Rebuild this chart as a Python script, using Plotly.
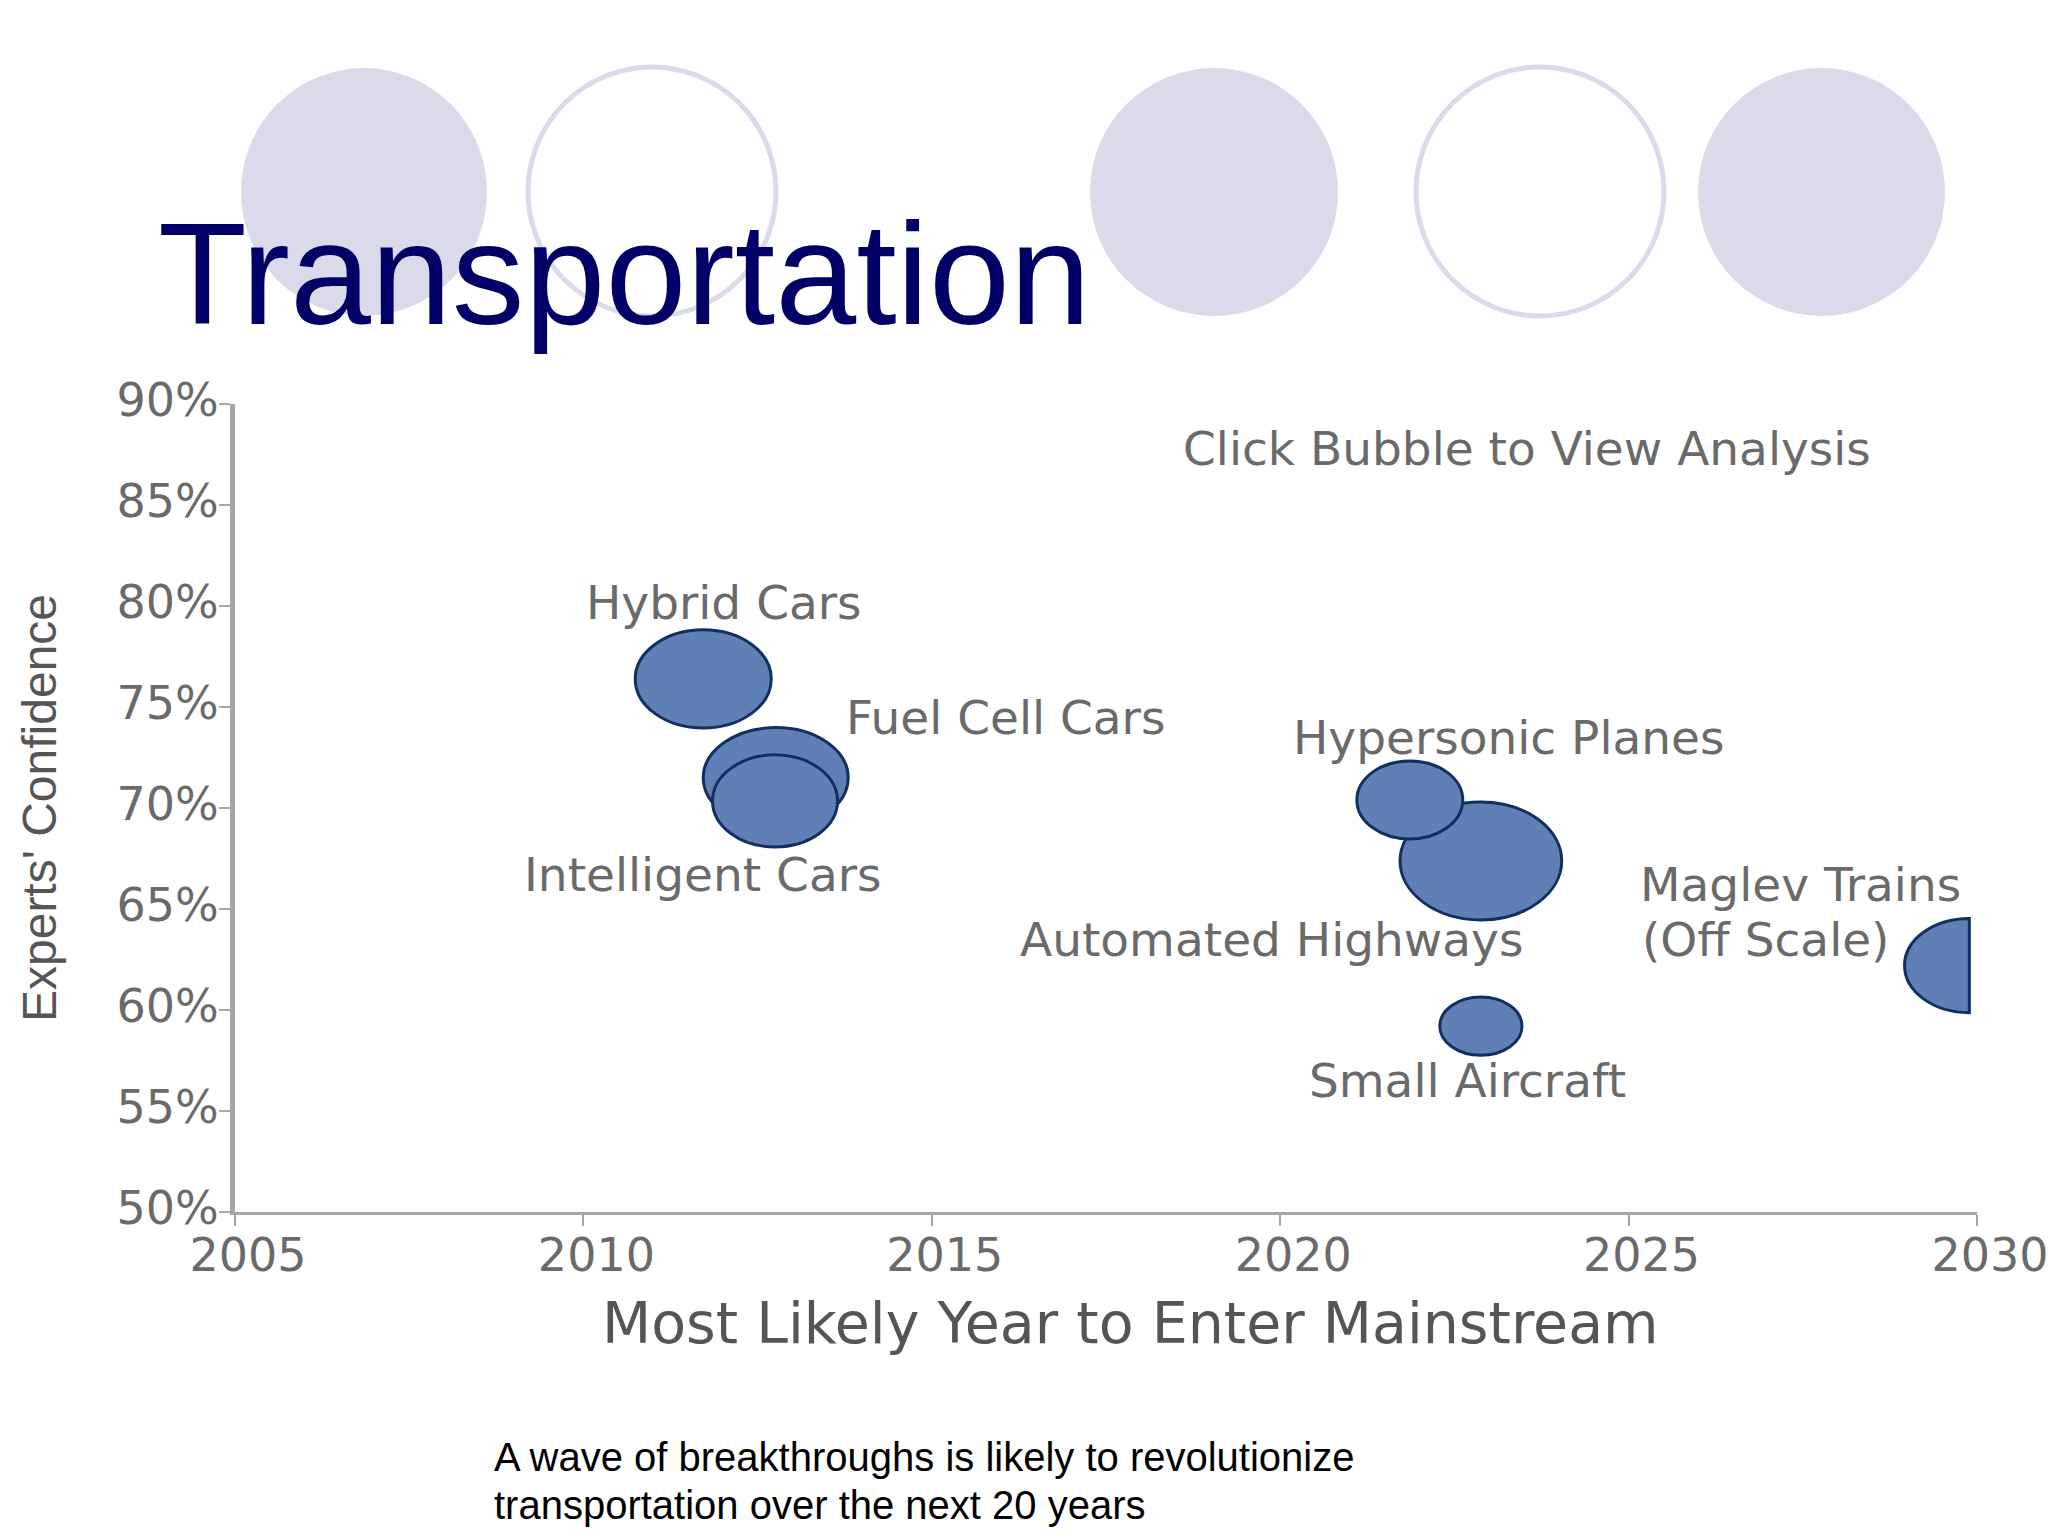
import plotly.graph_objects as go

# ---- data ----
names = ["Hybrid Cars", "Fuel Cell Cars", "Intelligent Cars", "Automated Highways",
         "Hypersonic Planes", "Small Aircraft"]
years = [2011.72, 2012.76, 2012.75, 2022.88, 2021.86, 2022.88]
confidence = [76.39, 71.5, 70.35, 67.38, 70.4, 59.2]
half_years = [0.976, 1.04, 0.897, 1.16, 0.76, 0.59]
half_conf = [2.43, 2.48, 2.28, 2.92, 1.93, 1.44]

maglev_year = 2029.89
maglev_conf = 62.2
maglev_half_year = 0.93
maglev_half_conf = 2.33

label_texts = ["Click Bubble to View Analysis", "Hybrid Cars", "Fuel Cell Cars", "Intelligent Cars",
               "Hypersonic Planes", "Automated Highways", "Maglev Trains", "(Off Scale)", "Small Aircraft"]
label_years = [2023.54, 2012.02, 2016.06, 2011.72, 2023.28, 2019.88, 2027.47, 2026.97, 2022.69]
label_conf = [87.8, 80.15, 74.5, 66.73, 73.47, 63.47, 66.2, 63.5, 56.49]

x_ticks = [2005, 2010, 2015, 2020, 2025, 2030]
y_ticks = [50, 55, 60, 65, 70, 75, 80, 85, 90]
y_tick_labels = ["50%", "55%", "60%", "65%", "70%", "75%", "80%", "85%", "90%"]

title_text = "Transportation"
x_title = "Most Likely Year to Enter Mainstream"
y_title = "Experts' Confidence"
caption_lines = ["A wave of breakthroughs is likely to revolutionize",
                 "transportation over the next 20 years"]

# ---- styles / layout ----
W, H = 2048, 1536
L, R, T, B = 235, 1977, 404, 1212
FILL, EDGE = "#5F7FB5", "#12305F"
AXIS, TEXT = "#A6A6A6", "#6A6A6A"
DECOR = "#DADAEB"
decor_filled = [(241, 487, 68, 316), (1090, 1338, 68, 316), (1698, 1945, 68, 316)]
decor_rings = [(528, 776, 67, 316), (1416, 1664, 67, 316)]


def px(x):
    return (x - L) / (R - L)


def py(y):
    return (B - y) / (B - T)


shapes = []
for x0, x1, y0, y1 in decor_filled:
    shapes.append(dict(type="circle", xref="paper", yref="paper", x0=px(x0), x1=px(x1), y0=py(y1), y1=py(y0),
                       fillcolor=DECOR, line=dict(width=0), layer="below"))
for x0, x1, y0, y1 in decor_rings:
    shapes.append(dict(type="circle", xref="paper", yref="paper", x0=px(x0), x1=px(x1), y0=py(y1), y1=py(y0),
                       fillcolor="white", line=dict(color=DECOR, width=5), layer="below"))

for cx, cy, rx, ry in zip(years, confidence, half_years, half_conf):
    shapes.append(dict(type="circle", xref="x", yref="y", x0=cx - rx, x1=cx + rx, y0=cy - ry, y1=cy + ry,
                       fillcolor=FILL, line=dict(color=EDGE, width=3)))

# Maglev bubble: left half only, cut at the right edge
k = 0.5523
cx, cy, rx, ry = maglev_year, maglev_conf, maglev_half_year, maglev_half_conf
path = (f"M {cx} {cy + ry} "
        f"C {cx - k * rx} {cy + ry} {cx - rx} {cy + k * ry} {cx - rx} {cy} "
        f"C {cx - rx} {cy - k * ry} {cx - k * rx} {cy - ry} {cx} {cy - ry} Z")
shapes.append(dict(type="path", xref="x", yref="y", path=path, fillcolor=FILL, line=dict(color=EDGE, width=3)))

annotations = []
for t, x, y in zip(label_texts, label_years, label_conf):
    annotations.append(dict(text=t, x=x, y=y, xref="x", yref="y", showarrow=False, xanchor="center", yanchor="middle",
                            font=dict(family="DejaVu Sans", size=47, color=TEXT)))

annotations.append(dict(text=title_text, x=px(156), y=py(273), xref="paper", yref="paper", showarrow=False,
                        xanchor="left", yanchor="middle",
                        font=dict(family="Liberation Sans", size=145.5, color="#000066")))
for line, yc in zip(caption_lines, [1457, 1505]):
    annotations.append(dict(text=line, x=px(492), y=py(yc), xref="paper", yref="paper", showarrow=False,
                            xanchor="left", yanchor="middle",
                            font=dict(family="Liberation Sans", size=40, color="#000000")))
annotations.append(dict(text=x_title, x=px(1130), y=py(1323), xref="paper", yref="paper", showarrow=False,
                        xanchor="center", yanchor="middle",
                        font=dict(family="DejaVu Sans", size=57, color="#555555")))

fig = go.Figure()
fig.add_trace(go.Scatter(x=years + [maglev_year], y=confidence + [maglev_conf], text=names + ["Maglev Trains"],
                         mode="markers", marker=dict(size=6, color=FILL, opacity=0), hoverinfo="text",
                         showlegend=False, cliponaxis=False))

fig.update_layout(
    width=W, height=H, autosize=False, showlegend=False,
    margin=dict(l=L, r=W - R, t=T, b=H - B, pad=0),
    paper_bgcolor="white", plot_bgcolor="white",
    shapes=shapes, annotations=annotations,
    xaxis=dict(range=[2005, 2030], tickvals=x_ticks, ticks="outside", ticklen=11, tickwidth=2, tickcolor=AXIS,
               showgrid=False, zeroline=False, showline=True, linecolor=AXIS, linewidth=3, automargin=False,
               ticklabeloverflow="allow", ticklabelshift=13, ticklabelstandoff=-10,
               tickfont=dict(family="DejaVu Sans", size=46, color=TEXT)),
    yaxis=dict(range=[50, 90], tickvals=y_ticks, ticktext=y_tick_labels, ticks="outside", ticklen=11, tickwidth=2,
               tickcolor=AXIS, showgrid=False, zeroline=False, showline=True, linecolor=AXIS, linewidth=5,
               automargin=False, ticklabelshift=-4, ticklabelstandoff=-9,
               tickfont=dict(family="DejaVu Sans", size=46, color=TEXT),
               title=dict(text=y_title, standoff=46, font=dict(family="Liberation Sans", size=48, color="#555555"))),
)

fig.write_html("out.html", post_script="document.body.style.margin='0';", config={"displayModeBar": False})
